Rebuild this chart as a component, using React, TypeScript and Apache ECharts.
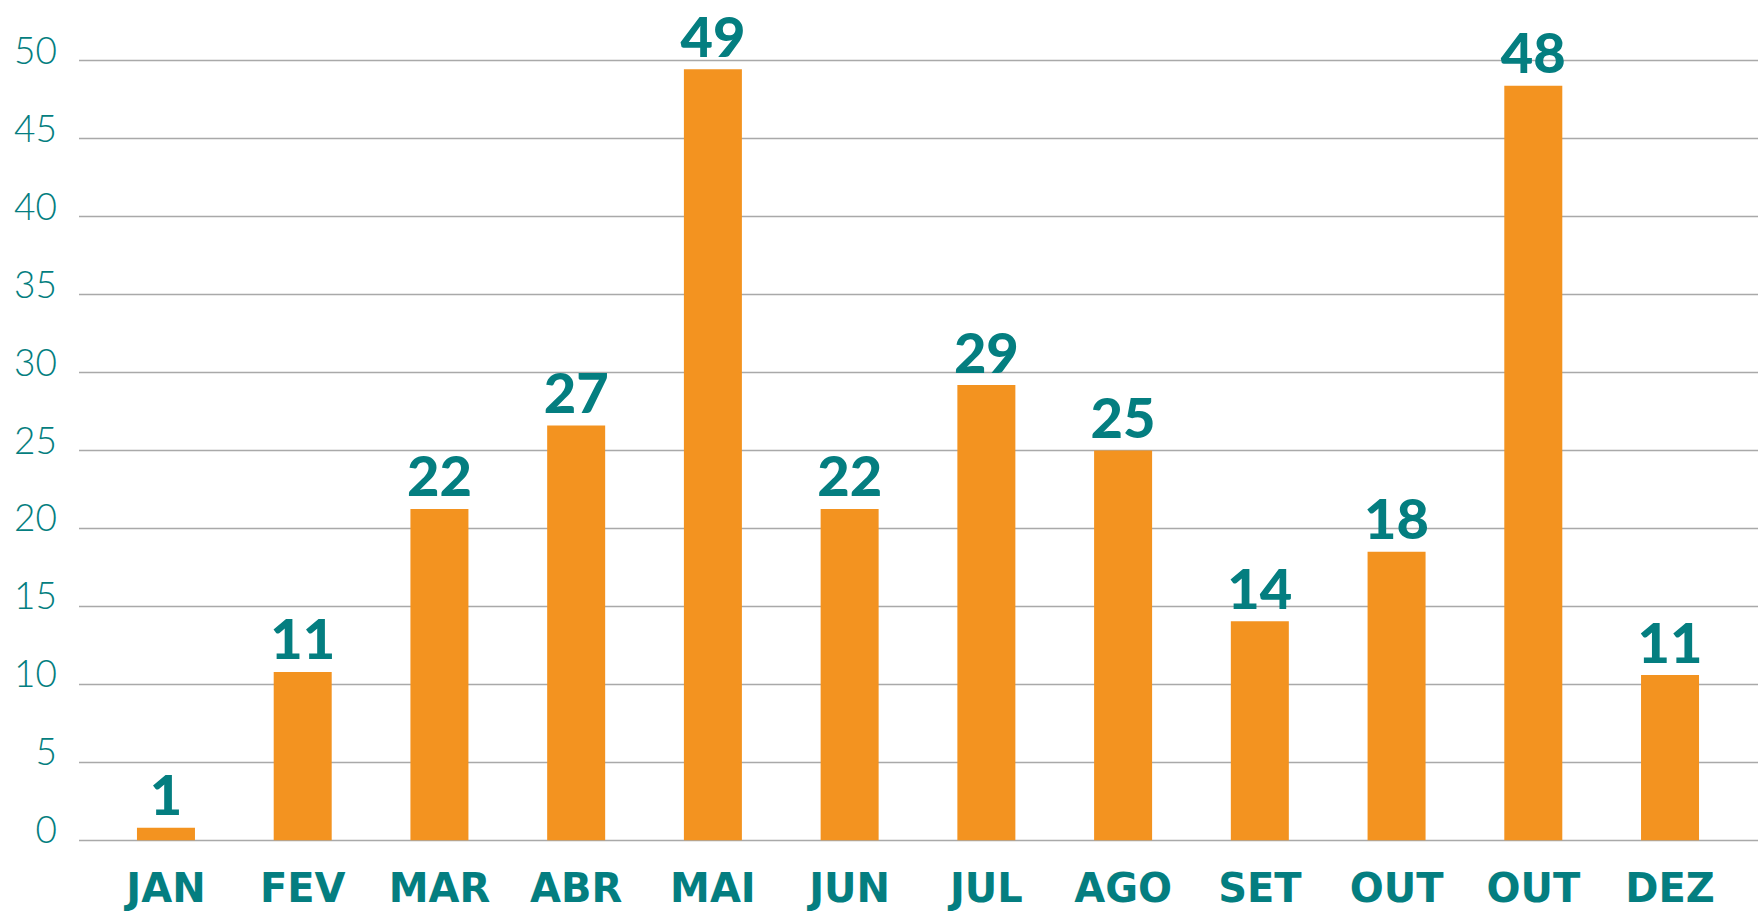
import React, { useEffect, useRef } from "react";
import * as echarts from "echarts";

const months = ["JAN", "FEV", "MAR", "ABR", "MAI", "JUN", "JUL", "AGO", "SET", "OUT", "OUT", "DEZ"];
const barHeights = [0.8, 10.8, 21.25, 26.6, 49.45, 21.25, 29.2, 25.0, 14.05, 18.5, 48.4, 10.6];
const valueLabels = ["1", "11", "22", "27", "49", "22", "29", "25", "14", "18", "48", "11"];
const yMin = 0;
const yMax = 50;
const yStep = 5;

const TEAL = "#047e80";
const ORANGE = "#f39320";

export default function App() {
  const ref = useRef<HTMLDivElement>(null);
  useEffect(() => {
    if (!ref.current) return;
    const chart = echarts.init(ref.current, undefined, { renderer: "svg" });
    const top = 60.7;
    const height = 779.6;
    chart.setOption({
      animation: false,
      backgroundColor: "#ffffff",
      grid: [
        { left: 79, right: 0, top, height },
        { left: 97.6, right: 19.6, top, height },
      ],
      xAxis: [
        { type: "value", gridIndex: 0, show: false, min: 0, max: 1 },
        {
          type: "category",
          gridIndex: 1,
          data: months,
          axisLine: { show: false },
          axisTick: { show: false },
          axisLabel: {
            color: TEAL,
            fontFamily: "DejaVu Sans",
            fontWeight: "bold",
            fontSize: 40,
            lineHeight: 42,
            margin: 27,
            interval: 0,
          },
        },
      ],
      yAxis: [
        {
          type: "value",
          gridIndex: 0,
          min: yMin,
          max: yMax,
          interval: yStep,
          axisLine: { show: false },
          axisTick: { show: false },
          splitLine: { show: true, lineStyle: { color: "#a9a9a9", width: 1.3 } },
          axisLabel: {
            color: TEAL,
            fontFamily: "Lato",
            fontWeight: 300,
            fontSize: 37,
            margin: 22,
            verticalAlign: "bottom",
            padding: [0, 0, -7, 0],
          },
        },
        { type: "value", gridIndex: 1, min: yMin, max: yMax, interval: yStep, show: false },
      ],
      series: [
        {
          type: "bar",
          xAxisIndex: 1,
          yAxisIndex: 1,
          data: barHeights,
          barWidth: 58,
          itemStyle: { color: ORANGE },
          label: {
            show: true,
            position: "top",
            distance: 6,
            color: TEAL,
            fontFamily: "Lato",
            fontWeight: 900,
            fontSize: 56,
            formatter: (p: any) => valueLabels[p.dataIndex],
          },
        },
      ],
    });
    return () => chart.dispose();
  }, []);
  return (
    <div
      ref={ref}
      style={{ position: "fixed", left: 0, top: 0, width: 1758, height: 911, background: "#fff" }}
    />
  );
}
